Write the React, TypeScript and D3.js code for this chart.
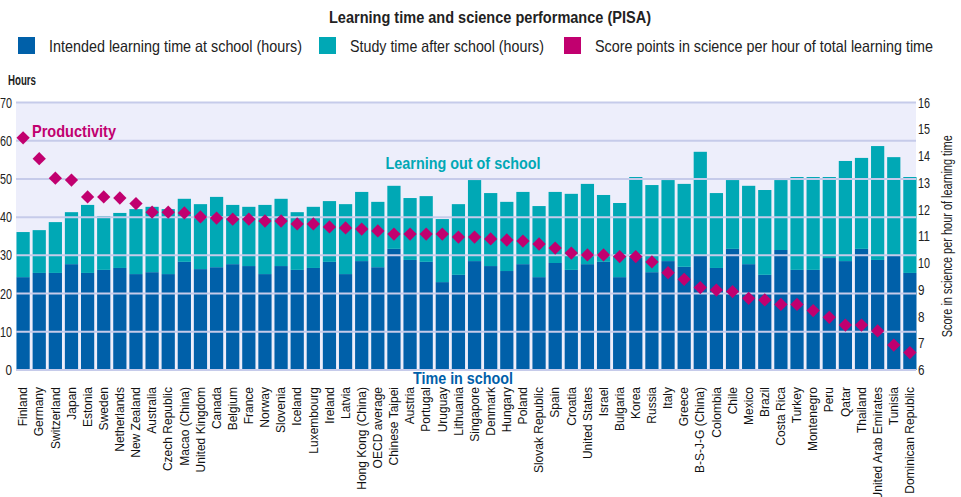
import React from 'react';
import * as d3 from 'd3';

const countries = [
  'Finland', 'Germany', 'Switzerland', 'Japan', 'Estonia', 'Sweden', 'Netherlands', 'New Zealand',
  'Australia', 'Czech Republic', 'Macao (China)', 'United Kingdom', 'Canada', 'Belgium', 'France',
  'Norway', 'Slovenia', 'Iceland', 'Luxembourg', 'Ireland', 'Latvia', 'Hong Kong (China)',
  'OECD average', 'Chinese Taipei', 'Austria', 'Portugal', 'Uruguay', 'Lithuania', 'Singapore',
  'Denmark', 'Hungary', 'Poland', 'Slovak Republic', 'Spain', 'Croatia', 'United States', 'Israel',
  'Bulgaria', 'Korea', 'Russia', 'Italy', 'Greece', 'B-S-J-G (China)', 'Colombia', 'Chile', 'Mexico',
  'Brazil', 'Costa Rica', 'Turkey', 'Montenegro', 'Peru', 'Qatar', 'Thailand',
  'United Arab Emirates', 'Tunisia', 'Dominican Republic',
];

// intended learning time at school (hours)
const schoolHours = [
  24.3, 25.4, 25.4, 27.7, 25.4, 26.2, 26.7, 25.1, 25.6, 25.1, 28.3, 26.4, 26.9, 27.7, 27.2,
  25.1, 27.2, 26.2, 26.7, 28.3, 25.1, 28.5, 26.9, 31.7, 28.8, 28.3, 23.0, 24.9, 28.5,
  27.2, 25.9, 27.7, 24.3, 28.0, 26.2, 27.7, 28.3, 24.3, 29.3, 25.6, 28.5, 27.0, 30.1, 26.7,
  31.7, 27.7, 24.9, 31.4, 26.2, 26.2, 29.3, 28.5, 31.7, 28.8, 30.1, 25.4,
];

// study time after school (hours)
const studyHours = [
  11.8, 11.2, 13.3, 13.6, 17.8, 14.1, 14.4, 17.0, 17.1, 17.0, 16.5, 17.0, 18.4, 15.5, 15.5,
  18.1, 17.6, 15.1, 16.0, 15.9, 18.3, 18.1, 17.1, 16.5, 16.2, 17.2, 16.5, 18.5, 21.2,
  19.1, 18.1, 18.9, 18.6, 18.6, 19.9, 21.0, 17.5, 19.4, 21.2, 22.8, 21.2, 21.7, 27.0, 19.6,
  18.0, 20.5, 22.2, 18.3, 24.3, 24.3, 21.2, 26.2, 23.8, 29.8, 25.6, 25.1,
];

// score points in science per hour of total learning time
const scorePerHour = [
  14.68, 13.9, 13.17, 13.1, 12.47, 12.47, 12.43, 12.22, 11.9, 11.9, 11.87, 11.72, 11.68, 11.64, 11.64,
  11.57, 11.57, 11.46, 11.46, 11.35, 11.31, 11.27, 11.2, 11.08, 11.08, 11.08, 11.08, 10.97, 10.97,
  10.9, 10.86, 10.82, 10.71, 10.56, 10.37, 10.3, 10.3, 10.24, 10.24, 10.04, 9.64, 9.39, 9.08, 8.99,
  8.93, 8.68, 8.62, 8.45, 8.45, 8.22, 7.97, 7.68, 7.68, 7.46, 6.93, 6.65,
];

const hourTicks = [0, 10, 20, 30, 40, 50, 60, 70];
const scoreTicks = [6, 7, 8, 9, 10, 11, 12, 13, 14, 15, 16];

const BLUE = '#0060A9';
const TEAL = '#00A8B5';
const MAGENTA = '#C1006F';

const legendItems = [
  { label: 'Intended learning time at school (hours)', color: BLUE, x: 18, len: 253 },
  { label: 'Study time after school (hours)', color: TEAL, x: 319, len: 194 },
  { label: 'Score points in science per hour of total learning time', color: MAGENTA, x: 564, len: 338 },
];

const FONT = '"Liberation Sans", Arial, sans-serif';

export default function App() {
  const width = 961;
  const height = 497;
  const plot = { left: 16, right: 916, top: 102.5, bottom: 370 };

  const x = d3
    .scaleBand()
    .domain(countries)
    .range([plot.left + 0.5, plot.right + 0.5])
    .paddingInner(0.18)
    .paddingOuter(0);

  const yL = d3.scaleLinear().domain([0, 70]).range([plot.bottom, plot.top]);
  const yR = d3.scaleLinear().domain([6, 16]).range([plot.bottom, plot.top]);

  const diamond = d3.symbol(d3.symbolSquare, 88)();

  return (
    <svg
      width={width}
      height={height}
      style={{ position: 'absolute', left: 0, top: 0, background: '#fff' }}
    >
      <text
        x={490}
        y={23}
        textAnchor="middle"
        fontFamily={FONT}
        fontWeight="bold"
        fontSize={16}
        fill="#222"
        textLength={322}
        lengthAdjust="spacingAndGlyphs"
      >
        Learning time and science performance (PISA)
      </text>

      {legendItems.map((d) => (
        <g key={d.label}>
          <rect x={d.x} y={37} width={17} height={17} fill={d.color} />
          <text
            x={d.x + 31}
            y={52}
            fontFamily={FONT}
            fontSize={16.5}
            fill="#222"
            textLength={d.len}
            lengthAdjust="spacingAndGlyphs"
          >
            {d.label}
          </text>
        </g>
      ))}

      <text
        x={8}
        y={85}
        fontFamily={FONT}
        fontWeight="bold"
        fontSize={14}
        fill="#222"
        textLength={28}
        lengthAdjust="spacingAndGlyphs"
      >
        Hours
      </text>

      <rect
        x={plot.left}
        y={plot.top}
        width={plot.right - plot.left}
        height={plot.bottom - plot.top}
        fill="#EDEEFB"
      />

      {countries.map((c, i) => (
        <g key={c}>
          <rect
            x={x(c)}
            y={yL(schoolHours[i])}
            width={x.bandwidth()}
            height={yL(0) - yL(schoolHours[i])}
            fill={BLUE}
          />
          <rect
            x={x(c)}
            y={yL(schoolHours[i] + studyHours[i])}
            width={x.bandwidth()}
            height={yL(schoolHours[i]) - yL(schoolHours[i] + studyHours[i])}
            fill={TEAL}
          />
        </g>
      ))}

      {hourTicks.map((t) => (
        <g key={t}>
          <line x1={plot.left} x2={plot.right} y1={yL(t)} y2={yL(t)} stroke="#C6CBEA" strokeWidth={2} />
          <text
            x={12}
            y={yL(t)}
            dy="0.36em"
            textAnchor="end"
            fontFamily={FONT}
            fontSize={14}
            fill="#222"
            textLength={t >= 10 ? 12 : 6.5}
            lengthAdjust="spacingAndGlyphs"
          >
            {t}
          </text>
        </g>
      ))}

      {scoreTicks.map((t) => (
        <text
          key={t}
          x={918}
          y={yR(t)}
          dy="0.36em"
          fontFamily={FONT}
          fontSize={14}
          fill="#222"
          textLength={t >= 10 ? 12 : 6.5}
          lengthAdjust="spacingAndGlyphs"
        >
          {t}
        </text>
      ))}

      <text
        transform={`translate(952,${(plot.top + plot.bottom) / 2}) rotate(-90)`}
        textAnchor="middle"
        fontFamily={FONT}
        fontSize={14}
        fill="#222"
        textLength={202}
        lengthAdjust="spacingAndGlyphs"
      >
        Score in science per hour of learning time
      </text>

      {countries.map((c, i) => (
        <path
          key={c}
          d={diamond}
          transform={`translate(${(x(c) as number) + x.bandwidth() / 2},${yR(scorePerHour[i])}) rotate(45)`}
          fill={MAGENTA}
        />
      ))}

      <text
        x={32}
        y={137}
        fontFamily={FONT}
        fontWeight="bold"
        fontSize={17}
        fill={MAGENTA}
        textLength={84}
        lengthAdjust="spacingAndGlyphs"
      >
        Productivity
      </text>
      <text
        x={463}
        y={169}
        textAnchor="middle"
        fontFamily={FONT}
        fontWeight="bold"
        fontSize={17}
        fill={TEAL}
        textLength={155}
        lengthAdjust="spacingAndGlyphs"
      >
        Learning out of school
      </text>

      {countries.map((c) => (
        <text
          key={c}
          transform={`translate(${(x(c) as number) + x.bandwidth() / 2},387) rotate(-90)`}
          dy="0.35em"
          textAnchor="end"
          fontFamily={FONT}
          fontSize={12}
          fill="#111"
        >
          {c}
        </text>
      ))}

      <text
        x={463}
        y={384}
        textAnchor="middle"
        fontFamily={FONT}
        fontWeight="bold"
        fontSize={17}
        fill={BLUE}
        textLength={100}
        lengthAdjust="spacingAndGlyphs"
      >
        Time in school
      </text>
    </svg>
  );
}
